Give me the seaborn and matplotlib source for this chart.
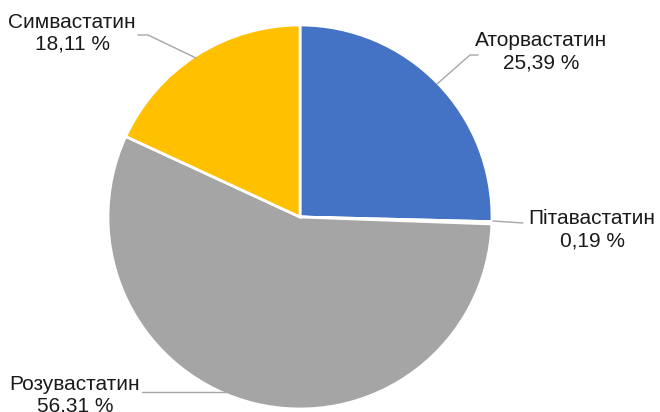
import matplotlib
matplotlib.use("Agg")
import matplotlib.pyplot as plt
import seaborn as sns

sns.set_theme(style="white")
plt.rcParams['font.family'] = ['Liberation Sans', 'DejaVu Sans']

categories = ["Аторвастатин", "Пітавастатин", "Розувастатин", "Симвастатин"]
values = [25.39, 0.19, 56.31, 18.11]
value_labels = ["25,39 %", "0,19 %", "56,31 %", "18,11 %"]
colors = ["#4472C4", "#ED7D31", "#A5A5A5", "#FFC000"]

W, H = 660, 412
cx, cy, R = 300, 217, 192
fig = plt.figure(figsize=(W / 100, H / 100), dpi=100)
ax = fig.add_axes([(cx - R) / W, (H - cy - R) / H, 2 * R / W, 2 * R / H])
ax.pie(values, colors=colors, startangle=90, counterclock=False, radius=1,
       wedgeprops=dict(edgecolor="white", linewidth=2))
ax.set_xlim(-1, 1)
ax.set_ylim(-1, 1)
ax.set_aspect("equal")
ax.axis("off")

def d(px, py):
    return ((px - cx) / R, (cy - py) / R)

# label positions (pixel centre of the two-line label) and leader lines
label_pos = [(541, 52), (592, 230), (75, 395), (72, 33)]
leaders = [
    [(478, 55), (470, 55), (437, 84)],
    [(523, 223), (493, 221)],
    [(142, 392), (228, 392)],
    [(138, 35), (148, 35), (196, 58)],
]
for cat, vl, (lx, ly), pts in zip(categories, value_labels, label_pos, leaders):
    x, y = d(lx, ly)
    ax.text(x, y, f"{cat}\n{vl}", ha="center", va="center", fontsize=15,
            color="#1a1a1a", linespacing=1.2, clip_on=False)
    xs = [d(*p)[0] for p in pts]
    ys = [d(*p)[1] for p in pts]
    ax.plot(xs, ys, color="#A6A6A6", linewidth=1, clip_on=False)

fig.savefig("out.png", dpi=100)
